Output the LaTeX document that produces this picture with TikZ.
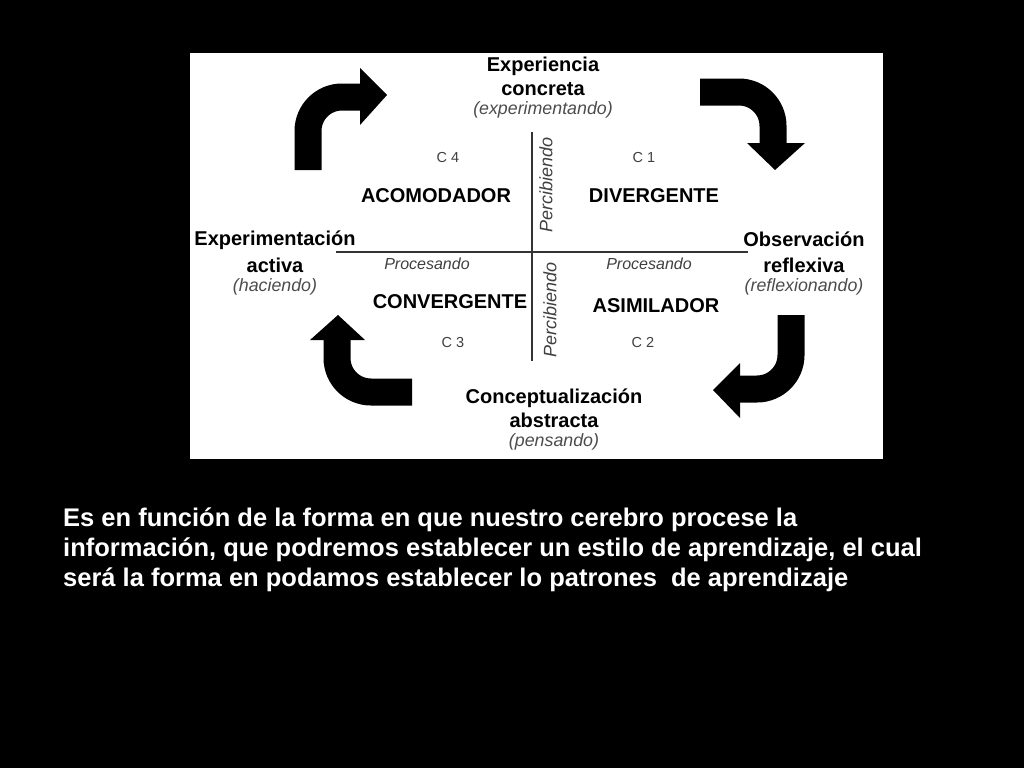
\documentclass[tikz,border=0pt]{standalone}
\usepackage{fontspec}
\setmainfont{Liberation Sans}
\begin{document}
\begin{tikzpicture}[x=1pt,y=-1pt,
  lbl/.style={font=\fontsize{20}{22}\selectfont\bfseries, text=black, inner sep=0pt},
  sub/.style={font=\fontsize{17.8}{19}\selectfont\itshape, text=black!70, inner sep=0pt},
  cl/.style={font=\fontsize{14.5}{16}\selectfont, text=black!75, inner sep=0pt},
  proc/.style={font=\fontsize{16}{17}\selectfont\itshape, text=black!75, inner sep=0pt},
  per/.style={font=\fontsize{18}{19}\selectfont\itshape, text=black!75, inner sep=0pt, rotate=90},
  axis/.style={draw=black!80, line width=2pt},
  shaft/.style={draw=black, line width=27pt, rounded corners=34pt},
  head/.style={fill=black}]
\useasboundingbox (0,0) rectangle (1024,768);
\fill[black] (0,0) rectangle (1024,768);
\fill[white] (190,53) rectangle (883,459);
% axes
\coordinate (vt) at (532,132);
\coordinate (vb) at (532,361);
\coordinate (hl) at (336,252);
\coordinate (hr) at (748,252);
\draw[axis] (vt) -- (vb);
\draw[axis] (hl) -- (hr);
% top text
\node[lbl] (ec1) at (543,66) {Experiencia};
\node[lbl] (ec2) at (543,89) {concreta};
\node[sub] (ec3) at (543,110) {(experimentando)};
\node[cl] (c4) at (448,158) {C 4};
\node[cl] (c1) at (644,158) {C 1};
\node[lbl] (aco) at (436,196) {ACOMODADOR};
\node[lbl] (div) at (654,196) {DIVERGENTE};
\node[per] (per1) at (546,185) {Percibiendo};
\node[per] (per2) at (550,310) {Percibiendo};
\node[lbl] (ea1) at (275,240) {Experimentación};
\node[lbl] (ea2) at (275,265) {activa};
\node[sub] (ea3) at (275,287) {(haciendo)};
\node[lbl] (or1) at (804,239) {Observación};
\node[lbl] (or2) at (804,265) {reflexiva};
\node[sub] (or3) at (804,287) {(reflexionando)};
\node[proc] (pr1) at (427,264) {Procesando};
\node[proc] (pr2) at (649,264) {Procesando};
\node[lbl] (con) at (450,302) {CONVERGENTE};
\node[lbl] (asi) at (656,306) {ASIMILADOR};
\node[cl] (c3) at (453,343) {C 3};
\node[cl] (c2) at (643,343) {C 2};
\node[lbl] (ca1) at (554,398) {Conceptualización};
\node[lbl] (ca2) at (554,420) {abstracta};
\node[sub] (ca3) at (554,442) {(pensando)};
% arrows
\draw[shaft] (308,170) -- (308,97) -- (362,97);
\fill[head] (360,68) -- (387,95) -- (360,125) -- cycle;
\draw[shaft] (700,92) -- (773,92) -- (773,145);
\fill[head] (747,143) -- (805,143) -- (775,170) -- cycle;
\draw[shaft] (412,392) -- (337,392) -- (337,338);
\fill[head] (310,340) -- (365,340) -- (338,315) -- cycle;
\draw[shaft] (791,315) -- (791,389) -- (738,389);
\fill[head] (740,363) -- (740,418) -- (713,390) -- cycle;
% bottom text
\node[anchor=north west, align=left, text=white, inner sep=0pt,
      font=\fontsize{25.5}{30}\selectfont\bfseries] (txt) at (63,508)
 {Es en función de la forma en que nuestro cerebro procese la\\
  información, que podremos establecer un estilo de aprendizaje, el cual\\
  será la forma en podamos establecer lo patrones\ \ de aprendizaje};
\end{tikzpicture}
\end{document}
